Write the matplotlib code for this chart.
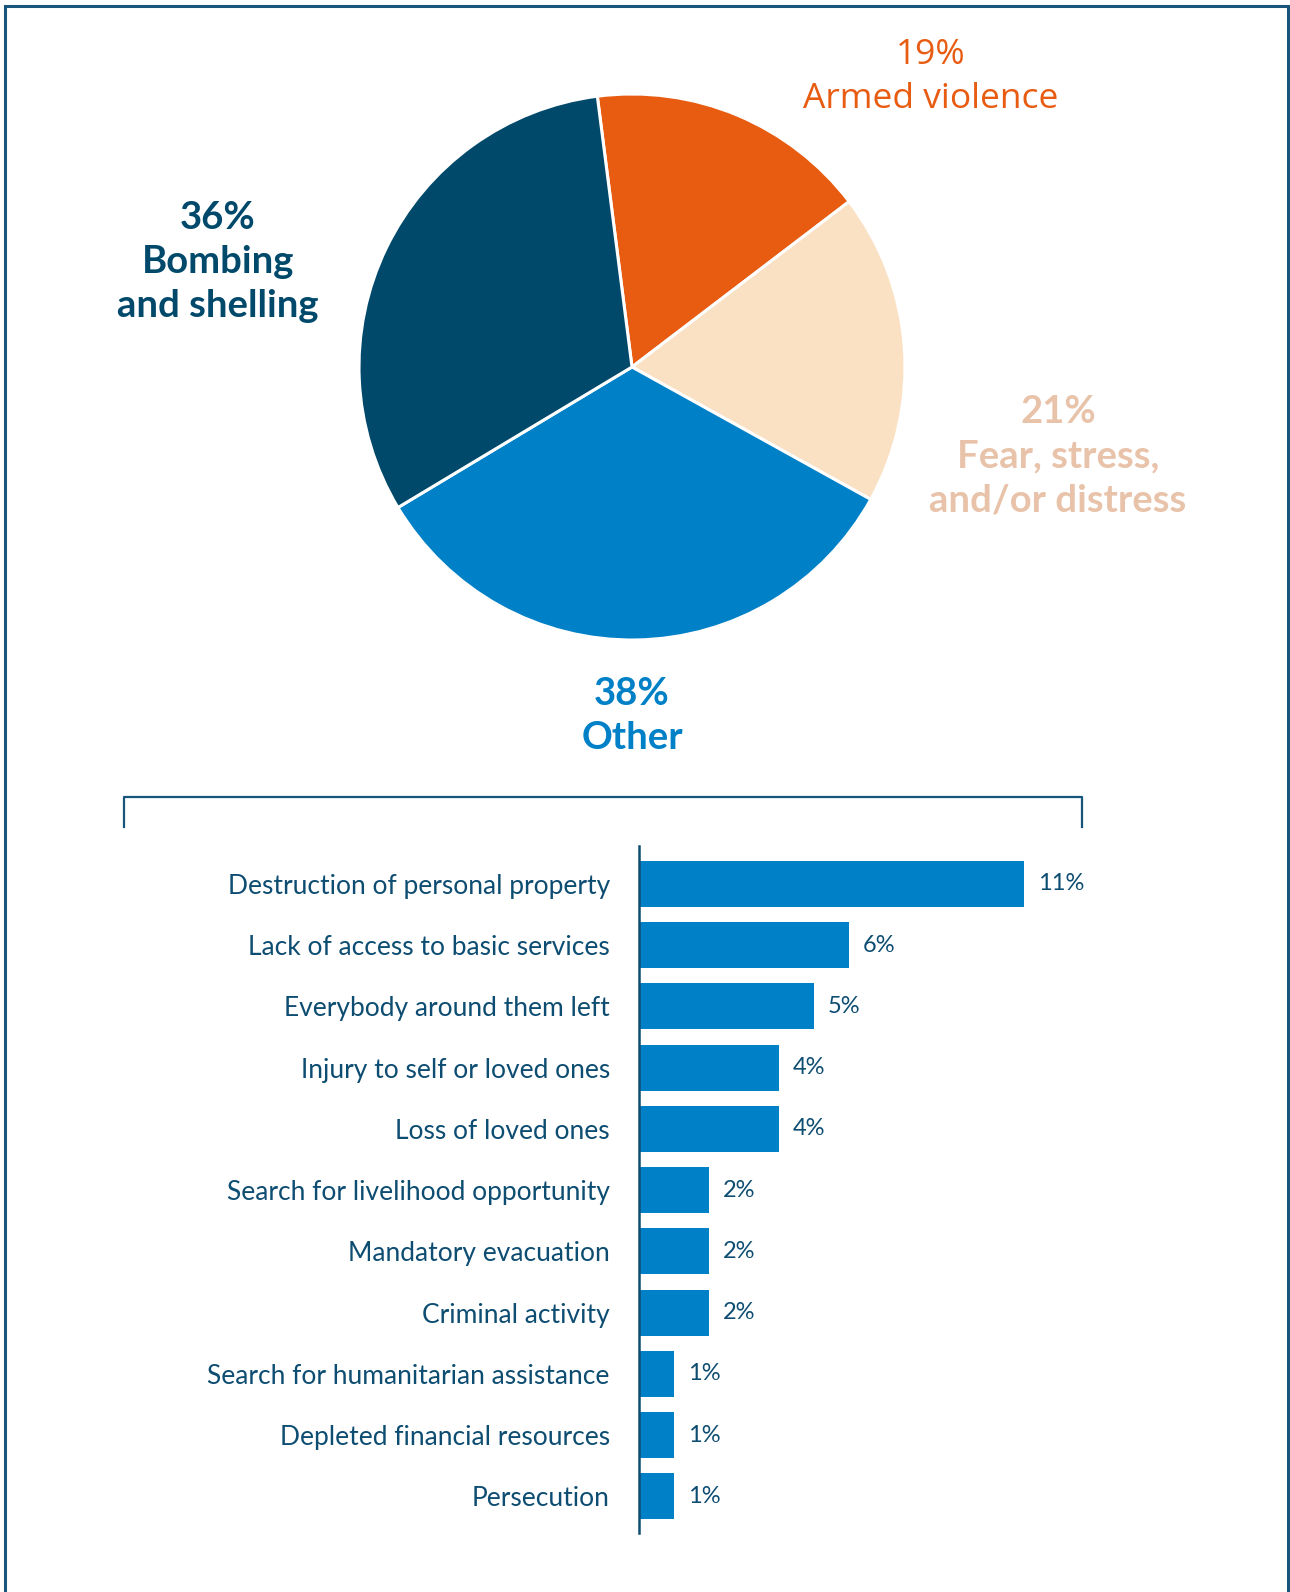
import matplotlib
matplotlib.use("Agg")
import matplotlib.pyplot as plt

# --- data ---
pie_labels = ["Armed violence", "Fear, stress,\nand/or distress", "Other", "Bombing\nand shelling"]
pie_values = [19, 21, 38, 36]
pie_colors = ["#e85c12", "#fbe1c4", "#0080c6", "#00496b"]
pie_text_colors = ["#e85c12", "#e8c3aa", "#0080c6", "#00496b"]

reasons = ["Destruction of personal property", "Lack of access to basic services",
           "Everybody around them left", "Injury to self or loved ones",
           "Loss of loved ones", "Search for livelihood opportunity",
           "Mandatory evacuation", "Criminal activity",
           "Search for humanitarian assistance", "Depleted financial resources",
           "Persecution"]
reason_values = [11, 6, 5, 4, 4, 2, 2, 2, 1, 1, 1]

W, H = 1290, 1592
dark = "#0e4d72"
line_col = "#17557a"
plt.rcParams['font.family'] = ['Lato', 'DejaVu Sans']

fig = plt.figure(figsize=(W / 100, H / 100), dpi=100)

# overlay in pixel coordinates
ov = fig.add_axes([0, 0, 1, 1])
ov.set_xlim(0, W)
ov.set_ylim(H, 0)
ov.axis('off')
ov.patch.set_visible(False)

# frame (no bottom edge)
ov.plot([5, 5, 1288, 1288], [H, 6, 6, H], color=line_col, lw=2.2, solid_joinstyle='miter')

# bracket
ov.plot([124, 124, 1082, 1082], [827, 797, 797, 827], color=line_col, lw=1.6)

# --- pie ---
cx, cy, r = 632, 367, 273
pax = fig.add_axes([(cx - r) / W, 1 - (cy + r) / H, 2 * r / W, 2 * r / H])
pax.pie(pie_values, colors=pie_colors, startangle=97.3, counterclock=False,
        radius=1, wedgeprops=dict(edgecolor='white', linewidth=2.2))
pax.set_xlim(-1, 1)
pax.set_ylim(-1, 1)
pax.set_aspect('equal')
pax.axis('off')

# label x centre and first-line baseline (pixels)
label_pos = [(931, 64), (1058, 423), (632, 705), (218, 229)]
line_step = 44
for i, (lab, val, col, (x, y)) in enumerate(zip(pie_labels, pie_values, pie_text_colors, label_pos)):
    lines = [f"{val}%"] + lab.split("\n")
    for j, ln in enumerate(lines):
        if i == 0:
            ov.text(x, y + j * line_step, ln, ha='center', va='baseline', color=col,
                    fontsize=25.5, family=['Open Sans', 'DejaVu Sans'], fontweight='medium')
        else:
            ov.text(x, y + j * line_step, ln, ha='center', va='baseline', color=col,
                    fontsize=27.5, fontweight='bold')

# --- bars ---
x0 = 639
px_per_unit = 35
top, bottom = 846, 1533
bw = 520
bax = fig.add_axes([x0 / W, 1 - bottom / H, bw / W, (bottom - top) / H])
ypos = list(range(len(reasons)))
bax.barh(ypos, reason_values, height=0.75, color="#0080c6")
bax.set_xlim(0, bw / px_per_unit)
bax.set_ylim(len(reasons) - 1 + 0.6, -0.62)
bax.set_yticks(ypos)
bax.set_yticklabels(reasons, fontsize=19, color=dark)
bax.tick_params(axis='y', length=0, pad=21)
bax.set_xticks([])
for s in ['top', 'right', 'bottom']:
    bax.spines[s].set_visible(False)
bax.spines['left'].set_color(dark)
bax.spines['left'].set_linewidth(1.8)
bax.patch.set_visible(False)
for yv, v in zip(ypos, reason_values):
    bax.text(v + 14 / px_per_unit, yv, f"{v}%", va='center', ha='left',
             fontsize=17, color=dark)

fig.savefig("out.png", dpi=100, facecolor='white')
